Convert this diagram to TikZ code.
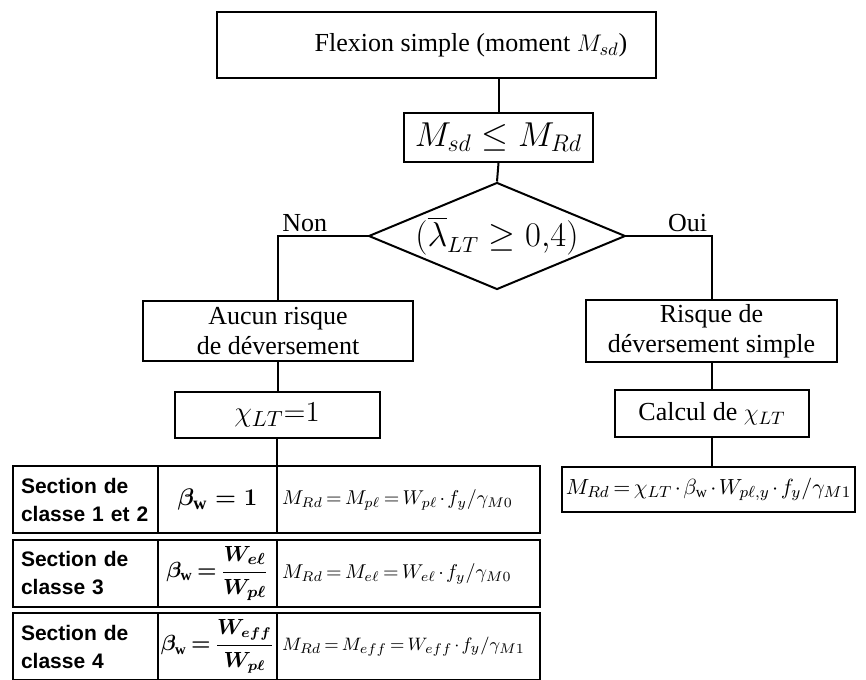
\documentclass[tikz,border=0pt]{standalone}
\usepackage{amsmath}
\usepackage{amssymb}
\usepackage{fontspec}
\setmainfont{Liberation Serif}
\newfontfamily\tabfont{Liberation Sans}
\newcommand\tightmath{\thickmuskip=3mu\relax\medmuskip=2mu\relax}
\usepackage{tikz}
\usetikzlibrary{shapes.geometric,positioning}

\begin{document}
\begin{tikzpicture}[
    x=0.5pt, y=-0.5pt,
    every node/.style={font=\fontsize{13}{15}\selectfont},
    flowbox/.style={
      rectangle, draw=black, line width=1pt, align=center, inner sep=2pt
    },
    choice/.style={
      diamond, draw=black, line width=1pt, aspect=2.4, inner sep=0pt,
      minimum width=123.5pt, minimum height=51pt
    },
    secbox/.style={
      rectangle, draw=black, line width=1pt, outer sep=0pt, inner xsep=4pt,
      inner ysep=0pt, text width=64.5pt, minimum height=33.5pt, align=left,
      font=\tabfont\bfseries\fontsize{10.5}{14}\selectfont
    },
    betabox/.style={
      rectangle, draw=black, line width=1pt, outer sep=0pt, inner sep=0pt,
      minimum width=59.5pt, minimum height=33.5pt,
      font=\fontsize{11}{13}\selectfont\boldmath\tightmath
    },
    formbox/.style={
      rectangle, draw=black, line width=1pt, outer sep=0pt, inner xsep=2.5pt,
      inner ysep=0pt, text width=126.5pt, minimum height=33.5pt, align=left,
      font=\fontsize{10}{12}\selectfont\tightmath
    },
    link/.style={line width=1pt, black}
  ]
    \useasboundingbox (0,0) rectangle (866,679);
    \clip (0,0) rectangle (866,679);

    % main flow
    \node[flowbox, minimum width=219.5pt, minimum height=33pt] (flexion) at (436.5,45) {};
    \node (flexiontxt) at (471,45) {Flexion simple (moment $M_{sd}$)};
    \node[flowbox, minimum width=94.5pt, minimum height=24.5pt,
          font=\fontsize{17}{20}\selectfont] (check) at (498.5,137.5) {$M_{sd} \leq M_{Rd}$};
    \node[choice, font=\fontsize{16}{19}\selectfont] (lambda) at (497,236)
          {$(\overline{\lambda}_{LT} \geq 0{,}4)$};

    % branch Non
    \node[flowbox, minimum width=135pt, minimum height=30pt] (aucun) at (278,331)
          {Aucun risque\\de déversement};
    \node[flowbox, minimum width=102.5pt, minimum height=23pt,
          font=\fontsize{15}{18}\selectfont] (chione) at (277,415) {$\chi_{LT}{=}1$};

    % branch Oui
    \node[flowbox, minimum width=125.5pt, minimum height=30pt] (risque) at (711.5,331)
          {Risque de\\déversement simple};
    \node[flowbox, minimum width=97pt, minimum height=23.5pt] (calcul) at (712,413.5)
          {Calcul de $\chi_{LT}$};
    \node[flowbox, minimum width=146.5pt, minimum height=22.5pt,
          font=\fontsize{11}{13}\selectfont\tightmath] (mrdlt) at (708.5,489.5)
          {$M_{Rd} = \chi_{LT}\cdot\beta_{\mathrm{w}}\cdot W_{p\ell,y}\cdot f_y/\gamma_{M1}$};

    % section classes
    \node[secbox, anchor=north west] (sec1) at (13,466) {Section de\\classe 1 et 2};
    \node[betabox, right=0pt of sec1, font=\fontsize{13}{15}\selectfont\boldmath] (beta1)
          {$\beta_{\mathrm{w}} = 1$};
    \node[formbox, right=0pt of beta1] (mrd1) {$M_{Rd} = M_{p\ell} = W_{p\ell}\cdot f_y/\gamma_{M0}$};

    \node[secbox, below=3.5pt of sec1] (sec2) {Section de\\classe 3};
    \node[betabox, right=0pt of sec2] (beta2) {$\beta_{\mathrm{w}} = \dfrac{W_{e\ell}}{W_{p\ell}}$};
    \node[formbox, right=0pt of beta2] (mrd2) {$M_{Rd} = M_{e\ell} = W_{e\ell}\cdot f_y/\gamma_{M0}$};

    \node[secbox, below=3pt of sec2] (sec3) {Section de\\classe 4};
    \node[betabox, right=0pt of sec3, font=\fontsize{10.5}{13}\selectfont\boldmath\tightmath] (beta3)
          {$\beta_{\mathrm{w}} = \dfrac{W_{eff}}{W_{p\ell}}$};
    \node[formbox, right=0pt of beta3, font=\fontsize{9.5}{12}\selectfont\tightmath] (mrd3)
          {\mbox{$M_{Rd} = M_{eff} = W_{eff}\cdot f_y/\gamma_{M1}$}};

    % connectors
    \draw[link] (check.north |- flexion.south) -- (check.north);
    \draw[link] (check.south) -- (lambda.north);
    \draw[link] (lambda.west) -| (aucun.north);
    \draw[link] (lambda.east) -| (risque.north);
    \coordinate (noncorner) at (aucun.north |- lambda.west);
    \coordinate (ouicorner) at (risque.north |- lambda.east);
    \node[anchor=south west, inner sep=2pt] (non) at (noncorner) {Non};
    \node[anchor=south east, inner sep=2pt] (oui) at (ouicorner) {Oui};
    \draw[link] (aucun.south) -- (aucun.south |- chione.north);
    \draw[link] (chione.south) -- (chione.south |- mrd1.north);
    \draw[link] (risque.south) -- (risque.south |- calcul.north);
    \draw[link] (calcul.south) -- (calcul.south |- mrdlt.north);
  \end{tikzpicture}
\end{document}
